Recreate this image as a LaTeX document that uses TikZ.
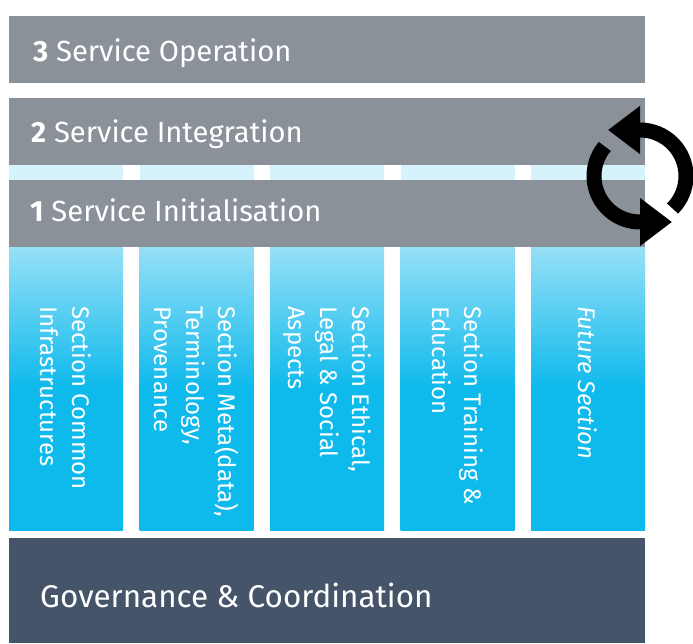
\documentclass[tikz,border=0pt]{standalone}
\usepackage{fontspec}
\setmainfont{Fira Sans}
\usetikzlibrary{arrows.meta}
\definecolor{bargrey}{RGB}{138,145,153}
\definecolor{govblue}{RGB}{70,84,106}
\definecolor{cyanD}{RGB}{14,185,236}
\definecolor{cyanL}{RGB}{150,224,247}
\definecolor{stripL}{RGB}{214,242,250}
\begin{document}
\begin{tikzpicture}[x=1pt,y=1pt,
  bar/.style={fill=bargrey, draw=none, inner sep=0, outer sep=0, anchor=south west, minimum width=636pt, minimum height=67pt},
  govbar/.style={fill=govblue, draw=none, inner sep=0, outer sep=0, anchor=south west, minimum width=636pt, minimum height=105pt},
  column/.style={draw=none, inner sep=0, outer sep=0, anchor=south west, minimum width=114pt, minimum height=283pt, top color=cyanL, bottom color=cyanD, middle color=cyanD},
  stripbox/.style={fill=stripL, draw=none, inner sep=0, outer sep=0, anchor=south west, minimum width=114pt, minimum height=15pt},
  bartext/.style={text=white, anchor=base west, inner sep=0, font=\fontsize{29.2}{34}\selectfont},
  govtext/.style={text=white, anchor=base west, inner sep=0, font=\fontsize{31.4}{37}\selectfont},
  coltext/.style={text=white, rotate=-90, anchor=west, align=left, inner sep=0, font=\fontsize{24}{32}\selectfont},
  cyclearrow/.style={line width=15pt, -{Triangle[length=32pt,width=46pt]}}
]
\useasboundingbox (0,0) rectangle (693,643);
% light strip behind the initialisation bar
\foreach \i/\x in {1/9,2/139.5,3/270,4/400.5,5/531}{
  \node[stripbox] (s\i) at (\x,463) {};
  \node[column] (c\i) at (\x,113) {};
}
\node[bar] (op) at (9,560) {};
\node[bar] (int) at (9,478) {};
\node[bar] (ini) at (9,396) {};
\node[govbar] (gov) at (9,0) {};
\node[bartext] (opt) at (33,581) {\textbf{3} Service Operation};
\node[bartext] (intt) at (31,500) {\textbf{2} Service Integration};
\node[bartext] (init) at (30,421) {\textbf{1} Service Initialisation};
\node[govtext] (govt) at (40,36) {Governance \& Coordination};
\node[coltext] (t1) at (66,337) {Section Common\\Infrastructures};
\node[coltext] (t2) at (196.5,337) {Section Meta(data),\\Terminology,\\Provenance};
\node[coltext] (t3) at (327,337) {Section Ethical,\\Legal \& Social\\Aspects};
\node[coltext] (t4) at (457.5,337) {Section Training \&\\Education};
\node[coltext] (t5) at (588,337) {\itshape Future Section};
% cycle arrows
\coordinate (cc) at (640,467);
\draw[cyclearrow] ([shift={(-45:46)}]cc) arc[start angle=-45, end angle=90, radius=46] -- ++(-32,0);
\draw[cyclearrow] ([shift={(140:46)}]cc) arc[start angle=140, end angle=270, radius=46] -- ++(32,0);
\end{tikzpicture}
\end{document}
